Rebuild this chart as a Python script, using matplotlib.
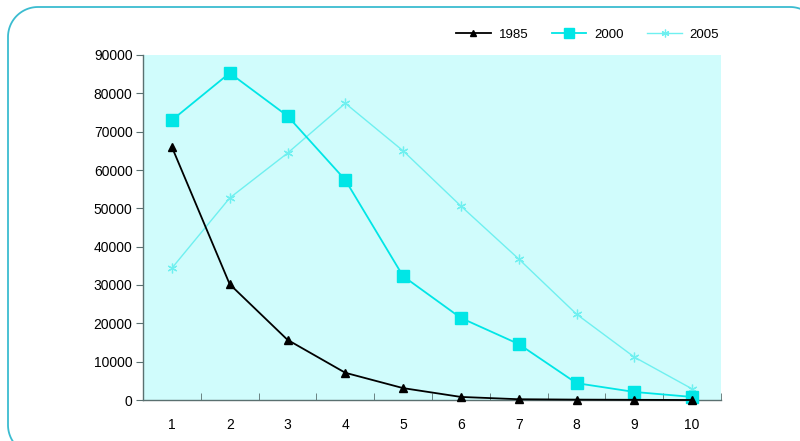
import numpy as np
import matplotlib
matplotlib.use("Agg")
import matplotlib.pyplot as plt
from matplotlib.lines import Line2D

plt.rcParams['font.family'] = ['Liberation Sans', 'DejaVu Sans']

categories = [1, 2, 3, 4, 5, 6, 7, 8, 9, 10]
s1985 = [66000, 30200, 15700, 7100, 3100, 800, 200, 100, 50, 0]
s2000 = [73000, 85300, 74100, 57400, 32300, 21400, 14600, 4400, 2100, 800]
s2005 = [34400, 52700, 64400, 77400, 65000, 50600, 36800, 22400, 11200, 2900]
yticks = [0, 10000, 20000, 30000, 40000, 50000, 60000, 70000, 80000, 90000]

W, H = 800, 441
fig = plt.figure(figsize=(W / 100, H / 100), dpi=100)

# rounded frame that runs off the right and bottom edges (pixel coords)
r = 30
left, top = 8, H - 7
t1 = np.radians(np.linspace(70.5, 90, 12))
t2 = np.radians(np.linspace(90, 180, 30))
t3 = np.radians(np.linspace(180, 213, 12))
xs = np.concatenate([790 + r * np.cos(t1), left + r + r * np.cos(t2),
                     left + r + r * np.cos(t3)])
ys = np.concatenate([top - r + r * np.sin(t1), top - r + r * np.sin(t2),
                     16 + r * np.sin(t3)])
fig.lines.append(Line2D(xs, ys, transform=None, color='#3bbcd0', lw=1.3))

ax = fig.add_axes([143 / W, 41 / H, 578 / W, 345 / H])
ax.set_facecolor('#d0fcfc')

ax.plot(categories, s2005, color='#6ff0f0', lw=1.0, marker=(6, 2, 0),
        ms=7, mew=0.9, label='2005', clip_on=False, zorder=3)
ax.plot(categories, s2000, color='#00e6e6', lw=1.3, marker='s',
        ms=8.5, label='2000', clip_on=False, zorder=4)
ax.plot(categories, s1985, color='black', lw=1.3, marker='^',
        ms=6, label='1985', clip_on=False, zorder=5)

ax.set_xlim(0.5, 10.5)
ax.set_ylim(0, 90000)
ax.set_yticks(yticks)
ax.set_yticklabels([str(v) for v in yticks])
ax.set_xticks(categories)
ax.set_xticklabels([str(c) for c in categories])
ax.set_xticks([c + 0.5 for c in categories[:-1]] + [10.5], minor=True)

for side in ('top', 'right'):
    ax.spines[side].set_visible(False)
for side in ('left', 'bottom'):
    ax.spines[side].set_color('#5a7070')
    ax.spines[side].set_linewidth(1.0)

ax.tick_params(axis='y', direction='out', length=5, color='#5a7070',
               labelsize=10, pad=2.5)
ax.tick_params(axis='x', which='major', length=0, labelsize=10, pad=13)
ax.tick_params(axis='x', which='minor', direction='in', length=5,
               color='#5a7070')

handles, labels = ax.get_legend_handles_labels()
order = [2, 1, 0]
ax.legend([handles[i] for i in order], [labels[i] for i in order],
          loc='center right', bbox_to_anchor=(731 / W, (H - 35) / H),
          bbox_transform=fig.transFigure, ncol=3, frameon=False,
          fontsize=9.5, handlelength=2.6, columnspacing=1.8,
          handletextpad=0.6, markerscale=0.8)

fig.savefig('out.png', dpi=100)
